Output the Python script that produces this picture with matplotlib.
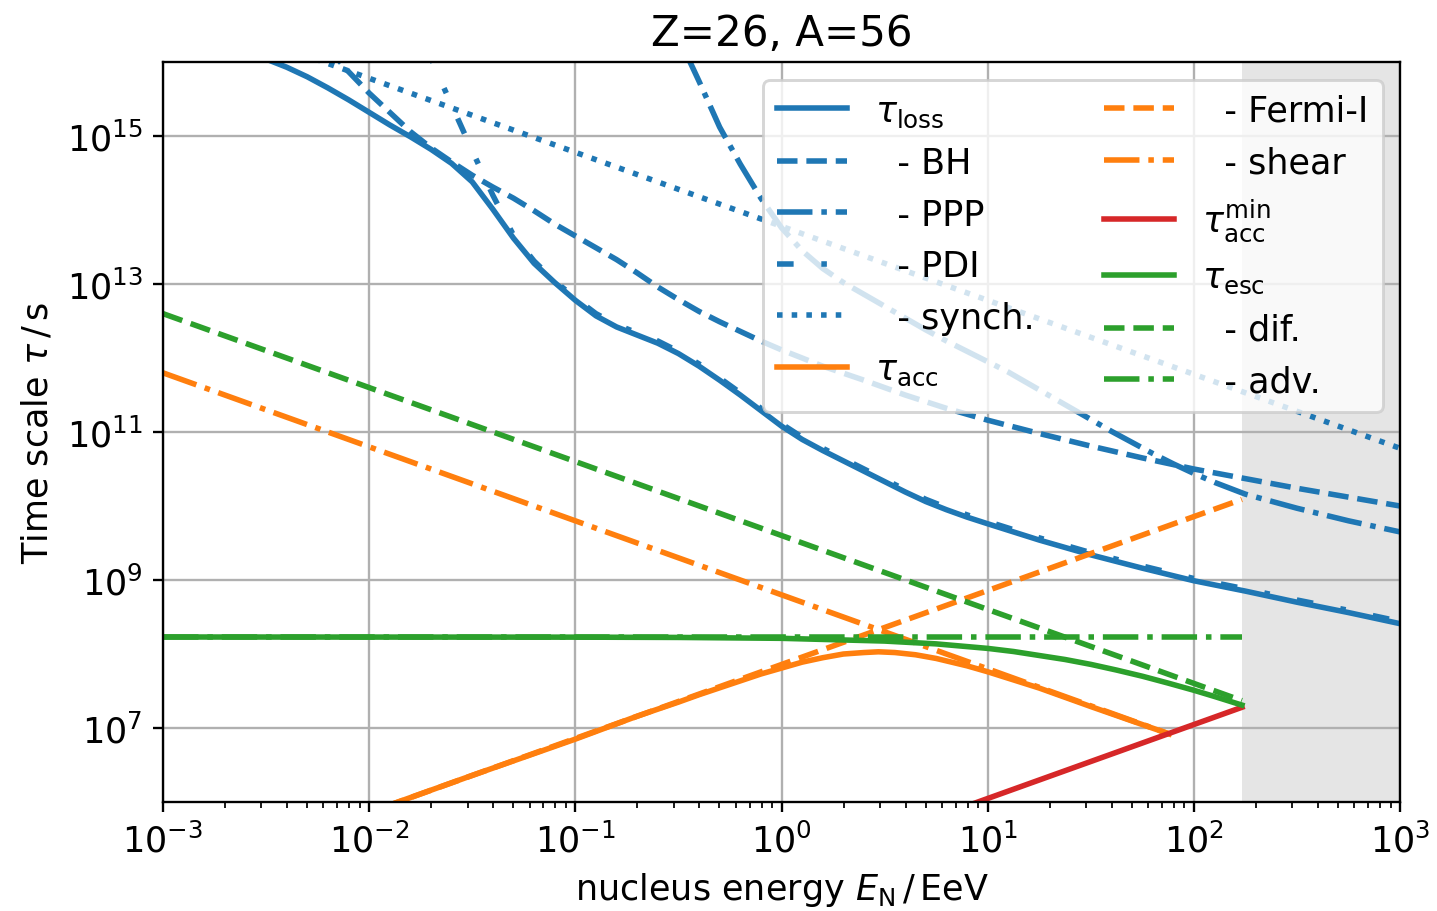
import numpy as np
import matplotlib
matplotlib.use('Agg')
import matplotlib.pyplot as plt
from matplotlib.ticker import NullLocator

plt.rcParams['font.size'] = 12

# all values as log10: energy in EeV, time scale in s
# energy loss: total and single processes
lgE_loss = [-2.6, -2.5, -2.4, -2.3, -2.2, -2.1, -2.0, -1.9, -1.8, -1.7, -1.6, -1.5, -1.4,
            -1.3, -1.2, -1.1, -1.0, -0.9, -0.8, -0.7, -0.6, -0.5, -0.4, -0.3, -0.2, -0.1,
            0.0, 0.1, 0.2, 0.3, 0.4, 0.5, 0.6, 0.7, 0.8, 0.9, 1.0, 1.25, 1.5, 1.75, 2.0,
            2.25, 2.5, 2.75, 3.0]
lgT_loss = [16.14, 16.04, 15.93, 15.80, 15.65, 15.49, 15.32, 15.15, 14.99, 14.82, 14.63,
            14.38, 14.01, 13.62, 13.28, 13.02, 12.78, 12.57, 12.42, 12.31, 12.20, 12.06,
            11.89, 11.70, 11.50, 11.29, 11.08, 10.90, 10.75, 10.61, 10.47, 10.33, 10.19,
            10.06, 9.95, 9.85, 9.76, 9.54, 9.34, 9.16, 8.99, 8.85, 8.70, 8.56, 8.41]

lgE_bh = [-2.2, -2.14, -2.1, -2.0, -1.9, -1.8, -1.7, -1.6, -1.5, -1.4, -1.3, -1.2, -1.1,
          -1.0, -0.9, -0.8, -0.7, -0.6, -0.5, -0.4, -0.3, -0.2, -0.1, 0.0, 0.2, 0.4, 0.6,
          0.8, 1.0, 1.25, 1.5, 1.75, 2.0, 2.25, 2.5, 2.75, 3.0]
lgT_bh = [16.2, 16.0, 15.87, 15.58, 15.32, 15.06, 14.84, 14.65, 14.47, 14.31, 14.16,
          13.99, 13.81, 13.65, 13.49, 13.33, 13.15, 12.96, 12.79, 12.63, 12.49, 12.36,
          12.23, 12.11, 11.89, 11.70, 11.50, 11.32, 11.16, 10.98, 10.81, 10.65, 10.50,
          10.37, 10.24, 10.12, 10.0]

lgE_ppp = [-0.47, -0.447, -0.4, -0.3, -0.2, -0.1, 0.0, 0.1, 0.2, 0.3, 0.4, 0.5, 0.6, 0.7,
           0.8, 0.9, 1.0, 1.1, 1.2, 1.3, 1.4, 1.5, 1.6, 1.7, 1.8, 1.9, 2.0, 2.1, 2.25, 2.5,
           2.75, 3.0]
lgT_ppp = [16.12, 16.02, 15.74, 15.12, 14.62, 14.16, 13.76, 13.45, 13.21, 13.02, 12.86,
           12.70, 12.54, 12.38, 12.23, 12.09, 11.95, 11.81, 11.65, 11.49, 11.33, 11.17,
           11.01, 10.86, 10.71, 10.57, 10.44, 10.32, 10.16, 9.97, 9.80, 9.65]

lgE_pdi = [-1.72, -1.676, -1.6, -1.5, -1.4, -1.3, -1.2, -1.1, -1.0, -0.9, -0.8, -0.7,
           -0.6, -0.5, -0.4, -0.3, -0.2, -0.1, 0.0, 0.1, 0.2, 0.3, 0.4, 0.5, 0.6, 0.7,
           0.8, 0.9, 1.0, 1.25, 1.5, 1.75, 2.0, 2.25, 2.5, 2.75, 3.0]
lgT_pdi = [16.2, 15.89, 15.42, 14.80, 14.20, 13.66, 13.31, 13.04, 12.81, 12.60, 12.45,
           12.34, 12.23, 12.09, 11.92, 11.73, 11.53, 11.32, 11.11, 10.93, 10.78, 10.64,
           10.50, 10.36, 10.22, 10.09, 9.98, 9.88, 9.79, 9.57, 9.37, 9.19, 9.02, 8.88,
           8.73, 8.59, 8.44]

lgE_syn = [-3.0, 3.0]
lgT_syn = [16.78, 10.78]

# acceleration
lgE_acc = [-1.9, -1.5, -1.0, -0.7, -0.5, -0.4, -0.25, -0.1, 0.0, 0.1, 0.2, 0.3, 0.4,
           0.47, 0.55, 0.65, 0.75, 0.9, 1.0, 1.25, 1.5, 1.88]
lgT_acc = [5.96, 6.36, 6.85, 7.16, 7.35, 7.45, 7.59, 7.73, 7.81, 7.89, 7.95, 8.0, 8.02,
           8.03, 8.02, 7.99, 7.94, 7.84, 7.76, 7.54, 7.29, 6.92]

lgE_fermi = [-3.0, 2.233]
lgT_fermi = [4.86, 10.09]

lgE_shear = [-3.0, 1.88]
lgT_shear = [11.8, 6.92]

lgE_accmin = [-3.0, 2.233]
lgT_accmin = [2.05, 7.28]

# escape
lgE_esc = [-3.0, -1.0, -0.5, 0.0, 0.5, 0.75, 1.0, 1.125, 1.25, 1.375, 1.5, 1.625, 1.75,
           1.875, 2.0, 2.1, 2.233]
lgT_esc = [8.23, 8.228, 8.224, 8.212, 8.175, 8.137, 8.076, 8.034, 7.98, 7.926, 7.86,
           7.783, 7.70, 7.607, 7.51, 7.426, 7.31]

lgE_dif = [-3.0, 2.233]
lgT_dif = [12.6, 7.37]

lgE_adv = [-3.0, 2.233]
lgT_adv = [8.23, 8.23]

lgE_max = 2.233

fig, ax = plt.subplots(figsize=(1437 / 210, 912 / 210), dpi=210)
fig.subplots_adjust(left=0.1134, right=0.9743, bottom=0.1195, top=0.9309)


def curve(lgE, lgT, **kw):
    ax.plot(10**np.asarray(lgE), 10**np.asarray(lgT), lw=1.9, **kw)


curve(lgE_loss, lgT_loss, color='tab:blue', ls='-', label=r'$\tau_\mathrm{loss}$')
curve(lgE_bh, lgT_bh, color='tab:blue', ls='--', label='  - BH')
curve(lgE_ppp, lgT_ppp, color='tab:blue', ls='-.', label='  - PPP')
curve(lgE_pdi, lgT_pdi, color='tab:blue', ls=(0, (3, 5, 1, 5)), label='  - PDI')
curve(lgE_syn, lgT_syn, color='tab:blue', ls=':', label='  - synch.')
curve(lgE_acc, lgT_acc, color='tab:orange', ls='-', label=r'$\tau_\mathrm{acc}$')
curve(lgE_fermi, lgT_fermi, color='tab:orange', ls='--', label='  - Fermi-I')
curve(lgE_shear, lgT_shear, color='tab:orange', ls='-.', label='  - shear')
curve(lgE_accmin, lgT_accmin, color='tab:red', ls='-', label=r'$\tau_\mathrm{acc}^\mathrm{min}$')
curve(lgE_esc, lgT_esc, color='tab:green', ls='-', label=r'$\tau_\mathrm{esc}$')
curve(lgE_dif, lgT_dif, color='tab:green', ls='--', label='  - dif.')
curve(lgE_adv, lgT_adv, color='tab:green', ls='-.', label='  - adv.')

# energies above the maximum reachable one
ax.axvspan(10**lgE_max, 1e3, color='gray', alpha=0.2, lw=0)

ax.set_xscale('log')
ax.set_yscale('log')
ax.set_xlim(1e-3, 1e3)
ax.set_ylim(1e6, 1e16)
ax.set_yticks([1e7, 1e9, 1e11, 1e13, 1e15])
ax.yaxis.set_minor_locator(NullLocator())
ax.grid(True)

ax.legend(ncol=2, loc='upper right')
ax.set_xlabel(r'nucleus energy $E_\mathrm{N}\,/\,\mathrm{EeV}$')
ax.set_ylabel(r'Time scale $\tau\,/\,\mathrm{s}$')
ax.set_title('Z=26, A=56')

fig.savefig('out.png')
